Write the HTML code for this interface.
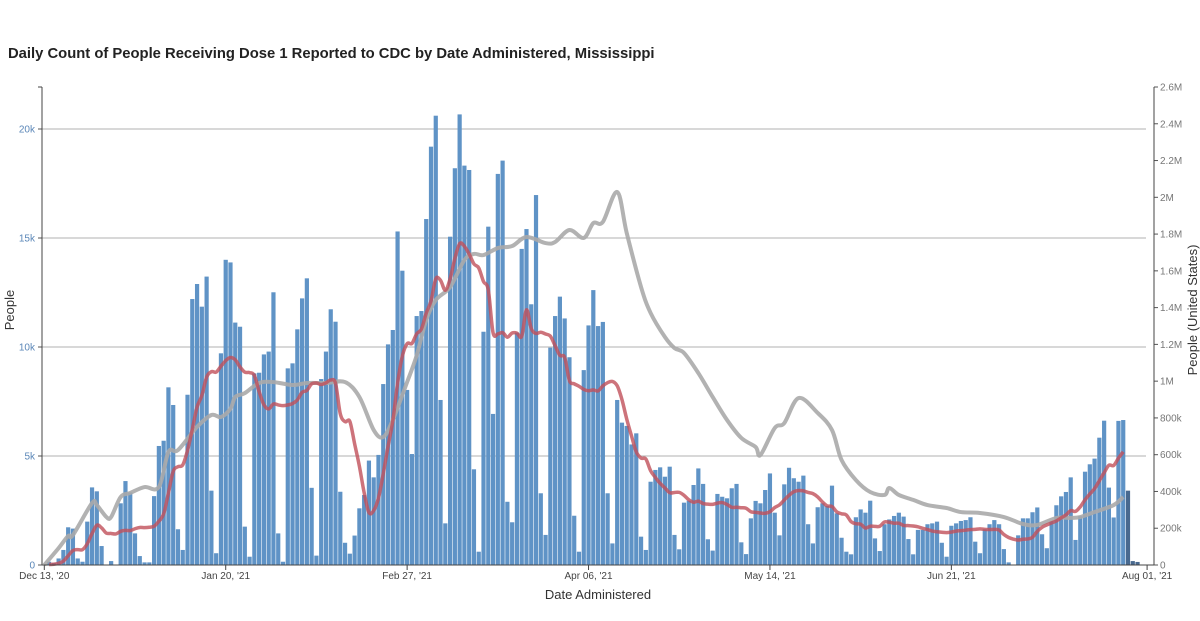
<!DOCTYPE html>
<html><head><meta charset="utf-8"><style>
body{margin:0;background:#fff;font-family:"Liberation Sans",sans-serif;}
svg{display:block}
</style></head><body>
<svg id="chart" width="1200" height="621">
<text x="8" y="58" font-size="14.8" font-weight="bold" fill="#222">Daily Count of People Receiving Dose 1 Reported to CDC by Date Administered, Mississippi</text>
<g id="grid"></g>
<g id="bars"></g>
<g id="lines"></g>
<g id="axes"></g>
<text x="598" y="599" font-size="13" fill="#333" text-anchor="middle">Date Administered</text>
<text transform="translate(14,310) rotate(-90)" font-size="13" fill="#333" text-anchor="middle">People</text>
<text transform="translate(1197,310) rotate(-90)" font-size="13" fill="#333" text-anchor="middle">People (United States)</text>
</svg>
<script>
const dailyDoses=[150,100,300,690,1730,1670,300,150,1990,3560,3380,870,0,180,0,2830,3850,3330,1450,410,120,120,3160,5460,5700,8150,7340,1640,690,7810,12200,12890,11850,13230,3410,540,9710,14000,13880,
11120,10930,1760,380,8790,8820,9660,9790,12510,1450,150,9020,9250,10810,12230,13150,3540,430,8530,9790,11730,11160,3360,1020,520,1350,2600,3210,4790,4020,5050,8300,10120,10780,15300,13500,
8030,5090,11420,11650,15870,19190,20610,7570,1910,15060,18200,20670,18320,18120,4390,610,10700,15520,6930,17940,18550,2900,1960,10660,14500,15410,11960,16970,3290,1380,9970,11420,12310,11310,9530,2260,610,8940,10990,
12610,10960,11150,3290,990,7570,6530,6380,5530,6040,1300,690,3820,4360,4480,4050,4510,1380,720,2860,2950,3670,4430,3720,1180,660,3260,3130,3060,3520,3720,1040,500,2140,2940,2830,3440,4200,2400,
1360,3700,4460,3980,3820,4100,1870,990,2650,2830,2710,3640,2370,1250,610,490,2190,2550,2400,2950,1220,640,1870,2090,2250,2400,2220,1190,490,1610,1610,1870,1910,1990,1020,380,1800,1910,2020,
2060,2190,1070,540,1640,1870,2060,1870,730,120,0,1360,2140,2140,2420,2640,1410,770,2020,2740,3150,3350,4020,1150,2240,4280,4620,4880,5840,6620,3550,2180,6610,6650,3410,180,140];
const incompleteCount=3;
const usDays=[0,3,5,6,10,11,13,14,16,18,21,24,26,28,32,35,37,39,40,42,45,48,52,55,59,63,66,69,71,73,76,78,80,82,85,88,90,92,95,98,101,105,107,110,113,115,117,120,122,125,127,130,132,134,137,140,143,146,149,150,153,155,158,162,165,167,170,173,176,177,179,182,185,189,192,196,201,205,208,212,215,217,220,224,226];
const usValuesK=[0,92,158,163,337,326,261,261,370,392,424,424,615,625,751,816,805,850,914,935,990,995,979,990,990,995,914,734,696,789,995,1140,1333,1441,1512,1659,1692,1686,1724,1735,1784,1751,1757,1822,1779,1860,1866,2029,1806,1512,1371,1240,1180,1153,1044,914,789,691,642,598,745,772,908,827,734,571,462,397,381,419,381,354,326,310,288,283,261,223,218,256,256,261,288,326,370];
const leftTicks=[0,5000,10000,15000,20000];
const leftTickLabels=["0","5k","10k","15k","20k"];
const rightTicks=[0,200,400,600,800,1000,1200,1400,1600,1800,2000,2200,2400,2600];
const rightTickLabels=["0","200k","400k","600k","800k","1M","1.2M","1.4M","1.6M","1.8M","2M","2.2M","2.4M","2.6M"];
const xTickDays=[0,38,76,114,152,190,231];
const xTickLabels=["Dec 13, '20","Jan 20, '21","Feb 27, '21","Apr 06, '21","May 14, '21","Jun 21, '21","Aug 01, '21"];

const NS="http://www.w3.org/2000/svg";
const X0=44.3,XS=4.774,Y0=565,PTOP=87;
const x=d=>X0+d*XS;
const yL=v=>Y0-v*(Y0-129)/20000;
const yR=v=>Y0-v*(Y0-PTOP)/2600;
function mk(tag,attrs,parent){const e=document.createElementNS(NS,tag);for(const k in attrs)e.setAttribute(k,attrs[k]);parent.appendChild(e);return e;}
const grid=document.getElementById('grid'),bars=document.getElementById('bars'),lines=document.getElementById('lines'),axes=document.getElementById('axes');
leftTicks.forEach((t,i)=>{
  if(t>0){const g=mk('line',{x1:42,x2:1146,y1:yL(t),y2:yL(t),stroke:'#b0b0b0','stroke-width':1},grid);
  
  }
  mk('line',{x1:38,x2:42,y1:yL(t),y2:yL(t),stroke:'#555'},axes);
  const tx=mk('text',{x:35,y:yL(t)+3.5,'font-size':10,fill:'#5b87b8','text-anchor':'end'},axes);
  tx.textContent=leftTickLabels[i];
  
  
});
rightTicks.forEach((t,i)=>{
  mk('line',{x1:1154,x2:1158,y1:yR(t),y2:yR(t),stroke:'#555'},axes);
  const tx=mk('text',{x:1160,y:yR(t)+3.5,'font-size':10,fill:'#777'},axes);
  tx.textContent=rightTickLabels[i];
  
  
});
mk('line',{x1:42,x2:42,y1:PTOP,y2:Y0,stroke:'#444'},axes);
mk('line',{x1:38,x2:42,y1:PTOP,y2:PTOP,stroke:'#444'},axes);
mk('line',{x1:1154,x2:1154,y1:PTOP,y2:Y0,stroke:'#444'},axes);
mk('line',{x1:42,x2:1154,y1:Y0,y2:Y0,stroke:'#444'},axes);
xTickDays.forEach((d,i)=>{
  mk('line',{x1:x(d),x2:x(d),y1:Y0,y2:Y0+5,stroke:'#444'},axes);
  const tx=mk('text',{x:x(d),y:Y0+14,'font-size':10,fill:'#444','text-anchor':'middle'},axes);
  tx.textContent=xTickLabels[i];
  
  
});
const n=dailyDoses.length;
dailyDoses.forEach((v,i)=>{
  const cx=x(i+1);
  const r=mk('rect',{x:cx-2.1,y:yL(v),width:4.2,height:Y0-yL(v),fill:i>=n-incompleteCount?'#48698f':'#5f93c6'},bars);
  
  
});
function smooth(pts){let d='M'+pts[0][0]+','+pts[0][1];
  for(let i=0;i<pts.length-1;i++){const p0=pts[Math.max(0,i-1)],p1=pts[i],p2=pts[i+1],p3=pts[Math.min(pts.length-1,i+2)];
    const c1=[p1[0]+(p2[0]-p0[0])/6,p1[1]+(p2[1]-p0[1])/6],c2=[p2[0]-(p3[0]-p1[0])/6,p2[1]-(p3[1]-p1[1])/6];
    d+=' C'+c1[0]+','+c1[1]+' '+c2[0]+','+c2[1]+' '+p2[0]+','+p2[1];}
  return d;}
const usPts=usDays.map((d,i)=>[x(d),yR(usValuesK[i])]);
const gp=mk('path',{d:smooth(usPts),fill:'none',stroke:'#aaaaaa','stroke-width':4,'stroke-opacity':0.9,'stroke-linejoin':'round'},lines);


const avgPts=[];
for(let i=0;i<n-incompleteCount;i++){let s=0;for(let j=Math.max(0,i-6);j<=i;j++){s+=dailyDoses[j];}avgPts.push([x(i+1),yL(s/7)]);}
const rp=mk('path',{d:smooth(avgPts),fill:'none',stroke:'#c0505a','stroke-width':3.5,'stroke-opacity':0.8,'stroke-linejoin':'round'},lines);


</script>
</body></html>
